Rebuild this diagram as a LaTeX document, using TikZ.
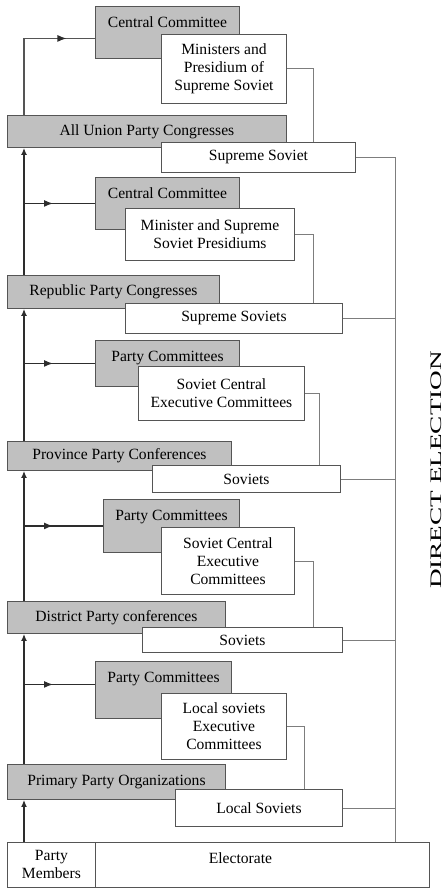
\documentclass[tikz,border=0pt]{standalone}
\usepackage{graphicx}
\usepackage{fontspec}
\setmainfont{Liberation Serif}
\usetikzlibrary{arrows.meta,decorations.markings}
\definecolor{boxgray}{RGB}{192,192,192}
\definecolor{edgegray}{RGB}{85,85,85}
\definecolor{linegray}{RGB}{125,125,125}
\definecolor{spinegray}{RGB}{45,45,45}
\tikzset{
    base/.style={draw=edgegray, line width=0.9pt, anchor=north west, inner sep=0pt,
        font=\fontsize{15.6pt}{18pt}\selectfont},
    levelbox/.style={base, fill=boxgray},
    combox/.style={base, fill=boxgray, text height=11.5pt, text depth=#1, inner ysep=10pt},
    sovbox/.style={base, fill=white, align=center},
    conn/.style={draw=linegray, line width=0.9pt},
    spine/.style={draw=spinegray, line width=1.5pt, -{Latex[length=7pt,width=6pt]}},
    branch/.style={draw=spinegray, line width=1.3pt, postaction={decorate},
        decoration={markings, mark=at position #1 with {\arrow[spinegray]{Latex[length=9pt,width=7pt]}}}}
}
\begin{document}
\begin{tikzpicture}[x=1pt, y=-1pt]
            \useasboundingbox (0,0) rectangle (445,888);
            \coordinate (spx) at (24,0);    %party spine
            \coordinate (bus) at (395,0);   %election line
            % party side
            \node[combox=20.5pt, minimum width=144pt] (cc1) at (95,6) {Central Committee};
            \node[levelbox, minimum width=279pt, minimum height=32pt] (aup) at (7,115) {All Union Party Congresses};
            \node[combox=20.5pt, minimum width=144pt] (cc2) at (95,177) {Central Committee};
            \node[levelbox, minimum width=212pt, minimum height=33pt] (rpc) at (7,275) {Republic Party Congresses};
            \node[combox=14.5pt, minimum width=144pt] (pc3) at (95,340) {Party Committees};
            \node[levelbox, minimum width=224pt, minimum height=29pt] (ppc) at (7,441) {Province Party Conferences};
            \node[combox=21.5pt, minimum width=136pt] (pc4) at (103,499) {Party Committees};
            \node[levelbox, minimum width=218pt, minimum height=32pt] (dpc) at (7,601) {District Party conferences};
            \node[combox=25.5pt, minimum width=136pt] (pc5) at (95,661) {Party Committees};
            \node[levelbox, minimum width=218pt, minimum height=35pt] (ppo) at (7,764) {Primary Party Organizations};
            % soviet side
            \node[sovbox, minimum width=125pt, minimum height=69pt] (min1) at (161,34) {Ministers and\\Presidium of\\Supreme Soviet};
            \node[sovbox, minimum width=194pt, minimum height=30pt] (ss1) at (161,142) {Supreme Soviet};
            \node[sovbox, minimum width=169pt, minimum height=52pt] (min2) at (125,208) {Minister and Supreme\\Soviet Presidiums};
            \node[sovbox, minimum width=217pt, minimum height=30pt] (ss2) at (125,303) {Supreme Soviets};
            \node[sovbox, minimum width=166pt, minimum height=54pt] (sce3) at (138,366) {Soviet Central\\Executive Committees};
            \node[sovbox, minimum width=188pt, minimum height=27pt] (sov3) at (152,465) {Soviets};
            \node[sovbox, minimum width=133pt, minimum height=67pt] (sce4) at (161,527) {Soviet Central\\Executive\\Committees};
            \node[sovbox, minimum width=200pt, minimum height=25pt] (sov4) at (142,627) {Soviets};
            \node[sovbox, minimum width=125pt, minimum height=66pt] (lse5) at (161,693) {Local soviets\\Executive\\Committees};
            \node[sovbox, minimum width=167pt, minimum height=37pt] (loc5) at (175,789) {Local Soviets};
            % bottom row
            \node[sovbox, minimum width=88pt, minimum height=45pt] (pm) at (7,842) {Party\\Members};
            \node[base, fill=white, text height=11.5pt, text depth=13.5pt, inner ysep=10pt, minimum width=334pt] (elect) at (95,842) {Electorate\hspace*{44pt}};
            \node[rotate=90, inner sep=0pt, font=\fontsize{16pt}{19pt}\selectfont] (de) at (436,470) {\scalebox{1.7}[1]{DIRECT ELECTION}};
            % spine arrows
            \draw[spine] (pm.north -| spx) -- (ppo.south -| spx);
            \draw[spine] (ppo.north -| spx) -- (dpc.south -| spx);
            \draw[spine] (dpc.north -| spx) -- (ppc.south -| spx);
            \draw[spine] (ppc.north -| spx) -- (rpc.south -| spx);
            \draw[spine] (rpc.north -| spx) -- (aup.south -| spx);
            \coordinate (cc1in) at ([yshift=-6pt]cc1.west);
            \coordinate (pc5in) at ([yshift=5.5pt]pc5.west);
            \draw[branch=119pt, draw=edgegray, line width=1.1pt] (aup.north -| spx) |- (cc1in);
            \draw[branch=29pt] (spx |- cc2.west) -- (cc2.west);
            \draw[branch=29pt] (spx |- pc3.west) -- (pc3.west);
            \draw[branch=29pt] (spx |- pc4.west) -- (pc4.west);
            \draw[branch=29pt] (spx |- pc5in) -- (pc5in);
            % executive to soviet
            \draw[conn] (min1.east) -| ([xshift=55pt]ss1.north);
            \draw[conn] (min2.east) -| ([xshift=79.5pt]ss2.north);
            \draw[conn] (sce3.east) -| ([xshift=73pt]sov3.north);
            \draw[conn] (sce4.east) -| ([xshift=71pt]sov4.north);
            \draw[conn] (lse5.east) -| ([xshift=45.5pt]loc5.north);
            % direct election
            \draw[conn] (ss1.east) -| (bus |- elect.north);
            \draw[conn] (ss2.east) -- (ss2.east -| bus);
            \draw[conn] (sov3.east) -- (sov3.east -| bus);
            \draw[conn] (sov4.east) -- (sov4.east -| bus);
            \draw[conn] (loc5.east) -- (loc5.east -| bus);
\end{tikzpicture}
\end{document}
